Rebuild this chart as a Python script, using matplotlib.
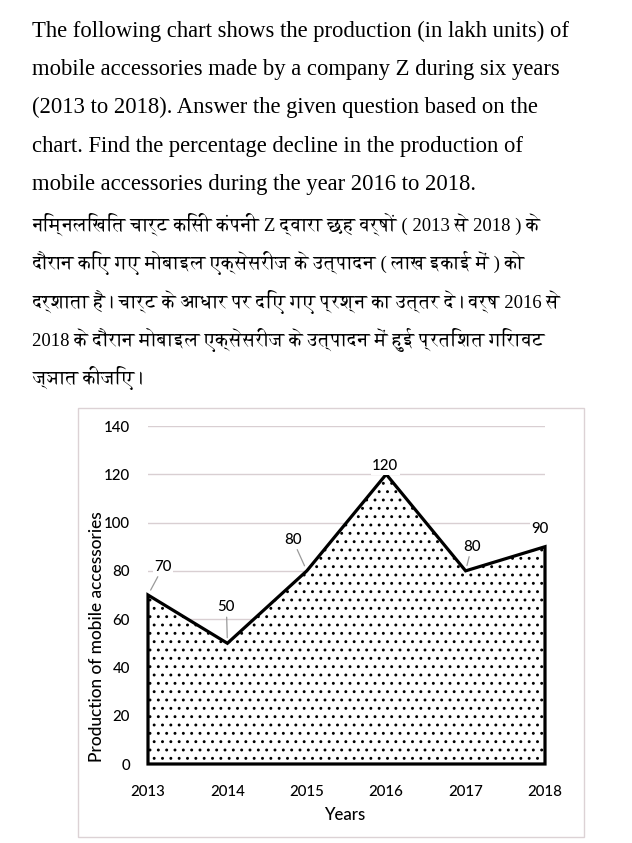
import matplotlib
matplotlib.use("Agg")
import matplotlib.pyplot as plt
from matplotlib import font_manager as fm
from matplotlib.ft2font import FT2Font
from matplotlib.patches import Rectangle

# ---------------- data ----------------
years = [2013, 2014, 2015, 2016, 2017, 2018]
production = [70, 50, 80, 120, 80, 90]
y_ticks = [0, 20, 40, 60, 80, 100, 120, 140]
x_label = "Years"
y_label = "Production of mobile accessories"
# label offsets (pixels) relative to each data point, and whether a leader line is drawn
label_offsets = [(15, 28), (-1, 36), (-14, 31), (-1, 8), (6, 24), (-5, 18)]
label_leader = [True, True, True, False, True, False]

english_lines = [
    "The following chart shows the production (in lakh units) of",
    "mobile accessories made by a company Z during six years",
    "(2013 to 2018). Answer the given question based on the",
    "chart. Find the percentage decline in the production of",
    "mobile accessories during the year 2016 to 2018.",
]
hindi_lines = [
    "निम्नलिखित चार्ट किसी कंपनी Z द्वारा छह वर्षों ( 2013 से 2018 ) के",
    "दौरान किए गए मोबाइल एक्सेसरीज के उत्पादन ( लाख इकाई में ) को",
    "दर्शाता है। चार्ट के आधार पर दिए गए प्रश्न का उत्तर दे। वर्ष 2016 से",
    "2018 के दौरान मोबाइल एक्सेसरीज के उत्पादन में हुई प्रतिशत गिरावट",
    "ज्ञात कीजिए।",
]

# ---------------- fonts ----------------
def find_family(ch):
    names = []
    for f in fm.fontManager.ttflist:
        try:
            cm = FT2Font(f.fname).get_charmap()
        except Exception:
            continue
        if ord(ch) in cm and f.name not in names:
            names.append(f.name)
    return names

deva = find_family("क")
serif_fams = ["Liberation Serif"] + [d for d in deva if "Serif" in d] + deva + ["DejaVu Sans"]
sans = "Lato"

W, H = 632, 843
fig = plt.figure(figsize=(W / 100, H / 100), dpi=100)

def fx(px):
    return px / W

def fy(py):
    return 1 - py / H

# ---------------- question text ----------------
base0 = 36.7
step = 38.4
for i, line in enumerate(english_lines):
    fig.text(fx(32.5), fy(base0 + i * step), line, family=serif_fams,
             fontsize=16.3, va="baseline", ha="left", color="black")
for i, line in enumerate(hindi_lines):
    fig.text(fx(32.5), fy(base0 + (i + 5) * step + 2), line, family=serif_fams,
             fontsize=13.5, va="baseline", ha="left", color="black")

# ---------------- chart frame ----------------
fig.patches.append(Rectangle((fx(78), fy(837)), fx(584) - fx(78), fy(408) - fy(837),
                             transform=fig.transFigure, fill=False,
                             edgecolor="#dcd2d5", linewidth=1.0))

ax = fig.add_axes([fx(148), fy(764), fx(545) - fx(148), fy(426) - fy(764)])
ax.set_xlim(years[0], years[-1])
ax.set_ylim(0, 140)
for s in ax.spines.values():
    s.set_visible(False)
ax.set_yticks(y_ticks)
ax.set_xticks(years)
ax.tick_params(length=0, labelsize=10.8, pad=13)
ax.tick_params(axis="x", pad=15)
for lab in ax.get_xticklabels() + ax.get_yticklabels():
    lab.set_family(sans)
    lab.set_fontweight("medium")
ax.yaxis.grid(True, color="#d9cfd2", linewidth=1.0)
ax.set_axisbelow(True)

plt.rcParams["hatch.linewidth"] = 0.9
ax.fill_between(years, production, 0, facecolor="white", edgecolor="black",
                hatch="..", linewidth=2.3, zorder=2, clip_on=False, joinstyle="miter")

for x, y, (dx, dy), lead in zip(years, production, label_offsets, label_leader):
    ap = dict(arrowstyle="-", color="#9a9a9a", lw=0.9, shrinkA=1, shrinkB=4) if lead else None
    ax.annotate(str(y), xy=(x, y), xytext=(dx, dy), textcoords="offset pixels",
                ha="center", va="center", fontsize=10.8, family=sans, fontweight="medium",
                bbox=dict(boxstyle="square,pad=0.1", fc="white", ec="none"),
                arrowprops=ap, zorder=5, annotation_clip=False)

fig.text(fx(345), fy(815), x_label, ha="center", va="center", fontsize=12.2,
         family=sans, fontweight="medium")
fig.text(fx(97), fy(637), y_label, ha="center", va="center", rotation=90,
         fontsize=12.4, family=sans, fontweight="medium")

fig.savefig("out.png", dpi=100)
